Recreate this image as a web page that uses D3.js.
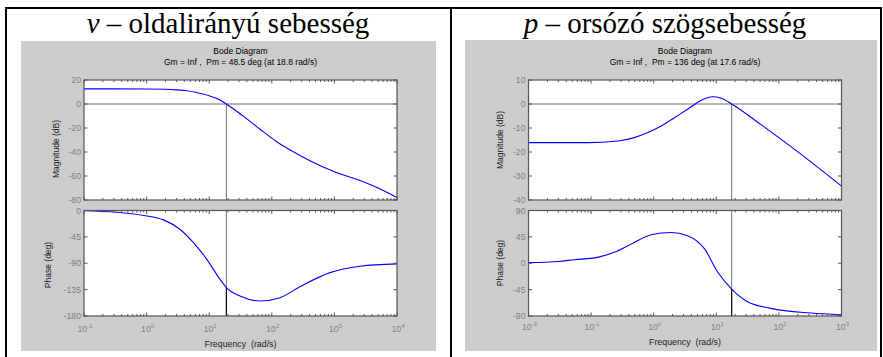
<!DOCTYPE html>
<html>
<head>
<meta charset="utf-8">
<script src="https://cdn.jsdelivr.net/npm/d3@7"></script>
<style>
  body { margin: 0; background: #fff; }
  svg { display: block; }
</style>
</head>
<body>
<div id="chart"></div>
<script>
// v - lateral velocity
const vMagFreq  = [0.1, 1, 2, 3, 4.4, 6, 8, 10, 14.9, 18.8, 30, 45, 64.7, 120, 200, 406, 1000, 2900, 5000, 10000];
const vMagDb    = [12.6, 12.5, 12.3, 11.8, 11, 9.8, 8.3, 6.8, 3.3, 0, -7.5, -14.5, -21, -31.4, -38.5, -47.2, -56.4, -64.7, -70, -78];
const vPhaseFreq = [0.1, 0.33, 0.9, 1.86, 3.4, 5.6, 9.1, 14.9, 18.8, 31, 65, 135, 282, 850, 2570, 10000];
const vPhaseDeg  = [-0.5, -3, -8.5, -16, -32, -55, -83, -117.5, -131.5, -146, -154.5, -148.8, -130, -106, -95, -91];

// p - roll rate
const pMagFreq  = [0.01, 0.09, 0.27, 0.49, 0.79, 1.32, 2.14, 3.47, 5.5, 8.7, 12, 17.6, 51, 178, 1000];
const pMagDb    = [-16.1, -16.1, -15.4, -14, -12, -9.2, -5.7, -2.2, 1.25, 3.0, 2.4, 0, -8.5, -18.9, -34.2];
const pPhaseFreq = [0.01, 0.03, 0.054, 0.126, 0.234, 0.49, 0.91, 1.9, 3.47, 6.5, 10.5, 17.6, 31.6, 74, 324, 1000];
const pPhaseDeg  = [1, 3, 6, 10, 18.7, 35.6, 48.6, 52.5, 47, 24.5, -15, -44, -65.7, -77, -85, -88];

const vMagTicks = [20, 0, -20, -40, -60, -80];
const vPhaseTicks = [0, -45, -90, -135, -180];
const pMagTicks = [10, 0, -10, -20, -30, -40];
const pPhaseTicks = [90, 45, 0, -45, -90];
const vDecades = [-1, 0, 1, 2, 3, 4];
const pDecades = [-2, -1, 0, 1, 2, 3];

const panelLetters = ["v", "p"];
const panelTitles = [" \u2013 oldalirányú sebesség", " \u2013 orsózó szögsebesség"];
const marginTexts = ["Gm = Inf ,  Pm = 48.5 deg (at 18.8 rad/s)", "Gm = Inf ,  Pm = 136 deg (at 17.6 rad/s)"];
const crossFreq = [18.8, 17.6];
const crossPhase = [-131.5, -44];

const W = 883, H = 357;
const svg = d3.select("#chart").append("svg").attr("width", W).attr("height", H);
const sans = "Liberation Sans, Arial, sans-serif";

// outer frame
svg.append("line").attr("x1", 6).attr("x2", 6).attr("y1", 7).attr("y2", H).attr("stroke", "#000").attr("stroke-width", 2);
svg.append("line").attr("x1", 451).attr("x2", 451).attr("y1", 7).attr("y2", H).attr("stroke", "#000").attr("stroke-width", 2);
svg.append("line").attr("x1", 881).attr("x2", 881).attr("y1", 7).attr("y2", H).attr("stroke", "#000").attr("stroke-width", 2);
svg.append("line").attr("x1", 5).attr("x2", 882).attr("y1", 8).attr("y2", 8).attr("stroke", "#000").attr("stroke-width", 2);

function drawBode(o) {
    const g = svg.append("g");

    // grey figure background
    g.append("rect").attr("x", o.gx0).attr("y", o.gy0).attr("width", o.gx1 - o.gx0).attr("height", o.gy1 - o.gy0).attr("fill", "#cccccc");

    // big title
    const t = g.append("text").attr("x", o.cx).attr("y", 33).attr("text-anchor", "middle")
        .attr("font-family", "Liberation Serif, Times New Roman, serif").attr("font-size", 29).attr("fill", "#000");
    t.append("tspan").attr("font-style", "italic").text(o.letter);
    t.append("tspan").text(o.title);

    const x = d3.scaleLog().domain([Math.pow(10, o.decades[0]), Math.pow(10, o.decades[o.decades.length - 1])]).range([o.x0, o.x1]);
    const yMag = d3.scaleLinear().domain(d3.extent(o.magTicks)).range([200, 80]);
    const yPh = d3.scaleLinear().domain(d3.extent(o.phTicks)).range([316, 210.5]);

    g.append("text").attr("x", (o.x0 + o.x1) / 2).attr("y", 54).attr("text-anchor", "middle")
        .attr("font-family", sans).attr("font-size", 8.5).text("Bode Diagram");
    g.append("text").attr("x", (o.x0 + o.x1) / 2).attr("y", 65).attr("text-anchor", "middle")
        .attr("font-family", sans).attr("font-size", 8.5).attr("xml:space", "preserve").text(o.margin);

    const minor = [];
    o.decades.slice(0, -1).forEach(d => {
        for (let k = 2; k <= 9; k++) minor.push(k * Math.pow(10, d));
    });
    const major = o.decades.map(d => Math.pow(10, d));

    function axesBox(y, ticks, isPhase, curveF, curveV) {
        const top = y.range()[1], bot = y.range()[0];
        g.append("rect").attr("x", o.x0).attr("y", top).attr("width", o.x1 - o.x0).attr("height", bot - top)
            .attr("fill", "#fff");

        // crossover markers
        if (!isPhase) {
            g.append("line").attr("x1", o.x0).attr("x2", o.x1).attr("y1", y(0)).attr("y2", y(0))
                .attr("stroke", "#6f6f6f").attr("stroke-width", 1);
            g.append("line").attr("x1", x(o.cross)).attr("x2", x(o.cross)).attr("y1", y(0)).attr("y2", bot)
                .attr("stroke", "#6f6f6f").attr("stroke-width", 1);
        } else {
            g.append("line").attr("x1", x(o.cross)).attr("x2", x(o.cross)).attr("y1", top).attr("y2", y(o.crossPhase))
                .attr("stroke", "#6f6f6f").attr("stroke-width", 1);
            g.append("line").attr("x1", x(o.cross)).attr("x2", x(o.cross)).attr("y1", y(o.crossPhase)).attr("y2", bot)
                .attr("stroke", "#000").attr("stroke-width", 1.2);
        }

        // response curve
        const pts = curveF.map((f, i) => [f, curveV[i]]);
        g.append("path").datum(pts)
            .attr("fill", "none").attr("stroke", "#0000ff").attr("stroke-width", 1.1)
            .attr("d", d3.line().x(d => x(d[0])).y(d => y(d[1])).curve(d3.curveMonotoneX));

        // inward ticks
        const tk = g.append("g").attr("stroke", "#555").attr("stroke-width", 1);
        minor.forEach(f => {
            tk.append("line").attr("x1", x(f)).attr("x2", x(f)).attr("y1", top).attr("y2", top + 2);
            tk.append("line").attr("x1", x(f)).attr("x2", x(f)).attr("y1", bot).attr("y2", bot - 2);
        });
        major.forEach(f => {
            tk.append("line").attr("x1", x(f)).attr("x2", x(f)).attr("y1", top).attr("y2", top + 3.5);
            tk.append("line").attr("x1", x(f)).attr("x2", x(f)).attr("y1", bot).attr("y2", bot - 3.5);
        });
        ticks.forEach(v => {
            tk.append("line").attr("x1", o.x0).attr("x2", o.x0 + 3.5).attr("y1", y(v)).attr("y2", y(v));
            tk.append("line").attr("x1", o.x1).attr("x2", o.x1 - 3.5).attr("y1", y(v)).attr("y2", y(v));
        });

        g.append("rect").attr("x", o.x0).attr("y", top).attr("width", o.x1 - o.x0).attr("height", bot - top)
            .attr("fill", "none").attr("stroke", "#555").attr("stroke-width", 1.2);

        // y tick labels
        ticks.forEach(v => {
            g.append("text").attr("x", o.x0 - 3).attr("y", y(v) + 3).attr("text-anchor", "end")
                .attr("font-family", sans).attr("font-size", 8.7).attr("fill", "#808080").text(v);
        });
    }

    axesBox(yMag, o.magTicks, false, o.magF, o.magV);
    axesBox(yPh, o.phTicks, true, o.phF, o.phV);

    // x tick labels (powers of ten)
    o.decades.forEach(d => {
        const tx = g.append("text").attr("x", x(Math.pow(10, d)) + 1).attr("y", o.xLabY).attr("text-anchor", "middle")
            .attr("font-family", sans).attr("font-size", 8.7).attr("fill", "#808080");
        tx.append("tspan").text("10");
        tx.append("tspan").attr("dy", -4.5).attr("font-size", 6).text(d);
    });

    g.append("text").attr("x", (o.x0 + o.x1) / 2).attr("y", o.xLabY + 15).attr("text-anchor", "middle")
        .attr("font-family", sans).attr("font-size", 8.8).attr("fill", "#222").attr("xml:space", "preserve")
        .text("Frequency  (rad/s)");

    g.append("text").attr("transform", `translate(${o.magLabelX},${o.magLabelY}) rotate(-90)`).attr("text-anchor", "middle")
        .attr("font-family", sans).attr("font-size", 8.5).attr("fill", "#222").text("Magnitude (dB)");
    g.append("text").attr("transform", `translate(${o.phLabelX},${o.phLabelY}) rotate(-90)`).attr("text-anchor", "middle")
        .attr("font-family", sans).attr("font-size", 8.5).attr("fill", "#222").text("Phase (deg)");
}

drawBode({
    gx0: 21, gx1: 436, gy0: 41, gy1: 351, cx: 228,
    letter: panelLetters[0], title: panelTitles[0], margin: marginTexts[0],
    x0: 84, x1: 397, decades: vDecades, xLabY: 332,
    magTicks: vMagTicks, phTicks: vPhaseTicks,
    magF: vMagFreq, magV: vMagDb, phF: vPhaseFreq, phV: vPhaseDeg,
    cross: crossFreq[0], crossPhase: crossPhase[0],
    magLabelX: 59, magLabelY: 149, phLabelX: 51, phLabelY: 265
});

drawBode({
    gx0: 465, gx1: 877, gy0: 40, gy1: 351, cx: 665,
    letter: panelLetters[1], title: panelTitles[1], margin: marginTexts[1],
    x0: 528.5, x1: 841.5, decades: pDecades, xLabY: 330,
    magTicks: pMagTicks, phTicks: pPhaseTicks,
    magF: pMagFreq, magV: pMagDb, phF: pPhaseFreq, phV: pPhaseDeg,
    cross: crossFreq[1], crossPhase: crossPhase[1],
    magLabelX: 503, magLabelY: 140, phLabelX: 503, phLabelY: 263
});
</script>
</body>
</html>
